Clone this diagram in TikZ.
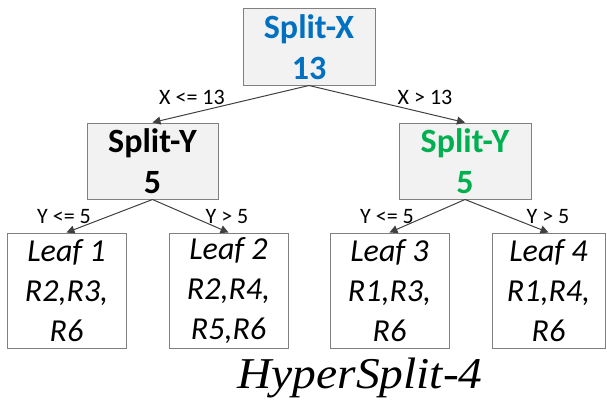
\documentclass[tikz,border=0pt]{standalone}
\usepackage{fontspec}
\setmainfont{Carlito}
\newfontfamily\timesfont{Liberation Serif}
\usetikzlibrary{arrows.meta}
\definecolor{splitblue}{HTML}{0070C0}
\definecolor{splitgreen}{HTML}{00B050}
\definecolor{boxfill}{HTML}{F2F2F2}
\definecolor{boxline}{HTML}{808080}
\definecolor{edgecol}{HTML}{404040}
\tikzset{
  splitbox/.style={draw=boxline, fill=boxfill, line width=1pt, inner sep=0pt,
    minimum height=76pt, align=center, font=\fontsize{34}{41}\selectfont\bfseries},
  leafbox/.style={draw=boxline, fill=white, line width=1pt, inner sep=0pt,
    minimum height=115pt, align=center, font=\fontsize{32}{40}\selectfont\itshape},
  edgelabel/.style={inner sep=0pt, font=\fontsize{22}{24}\selectfont},
  conn/.style={draw=edgecol, line width=1pt, -{Triangle[length=8pt,width=8pt]}}
}
\begin{document}
\begin{tikzpicture}[x=1pt,y=-1pt]
\useasboundingbox (0,0) rectangle (607,404);
\node[splitbox, minimum width=132pt, text=splitblue] (root) at (309,47) {Split-X\\13};
\node[splitbox, minimum width=131pt] (ly) at (152.5,161) {Split-Y\\5};
\node[splitbox, minimum width=132pt, text=splitgreen] (ry) at (465,161) {Split-Y\\5};
\node[leafbox, minimum width=119pt] (l1) at (66.5,290.5) {Leaf 1\\R2,R3,\\R6};
\node[leafbox, minimum width=119pt] (l2) at (228.5,290.5) {Leaf 2\\R2,R4,\\R5,R6};
\node[leafbox, minimum width=119pt] (l3) at (389.5,290.5) {Leaf 3\\R1,R3,\\R6};
\node[leafbox, minimum width=113pt] (l4) at (548.5,290.5) {Leaf 4\\R1,R4,\\R6};
\draw[conn] (root.south) -- (ly.north);
\draw[conn] (root.south) -- (ry.north);
\draw[conn] (ly.south) -- (l1.north);
\draw[conn] (ly.south) -- (l2.north);
\draw[conn] (ry.south) -- (l3.north);
\draw[conn] (ry.south) -- (l4.north);
\node[edgelabel] (e1) at (192,97) {X <= 13};
\node[edgelabel] (e2) at (425,97) {X > 13};
\node[edgelabel] (e3) at (64,217) {Y <= 5};
\node[edgelabel] (e4) at (227,217) {Y > 5};
\node[edgelabel] (e5) at (387,217) {Y <= 5};
\node[edgelabel] (e6) at (548,217) {Y > 5};
\node[anchor=base, inner sep=0pt] (title) at (360,388) {\scalebox{1.08}[1]{\timesfont\itshape\fontsize{44}{46}\selectfont HyperSplit-4}};
\end{tikzpicture}
\end{document}
